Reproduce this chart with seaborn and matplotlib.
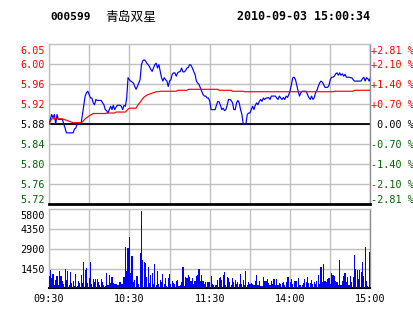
import numpy as np
import pandas as pd
import matplotlib
matplotlib.use("Agg")
import matplotlib.pyplot as plt
import seaborn as sns
from matplotlib.transforms import blended_transform_factory, ScaledTranslation

# ---------------- data ----------------
stock_code = "000599"
stock_name = "青岛双星"
stamp = "2010-09-03 15:00:34"
pre_close = 5.88
price_span = 0.165

left_labels = ["6.05", "6.00", "5.96", "5.92", "5.88", "5.84", "5.80", "5.76", "5.72"]
right_labels = ["+2.81 %", "+2.10 %", "+1.40 %", "+0.70 %", " 0.00 %",
                "-0.70 %", "-1.40 %", "-2.10 %", "-2.81 %"]
vol_labels = ["5800", "4350", "2900", "1450"]
vol_ticks = [5800, 4350, 2900, 1450]
vol_max = 5800
time_labels = ["09:30", "10:30", "11:30", "14:00", "15:00"]
time_label_minutes = [0, 60, 120, 180, 240]

price = [
    5.880, 5.890, 5.900, 5.893, 5.900, 5.880, 5.900, 5.890, 5.890, 5.890,
    5.890, 5.880, 5.872, 5.862, 5.862, 5.862, 5.862, 5.862, 5.862, 5.870,
    5.872, 5.880, 5.880, 5.880, 5.883, 5.900, 5.920, 5.938, 5.945, 5.948,
    5.941, 5.934, 5.934, 5.924, 5.920, 5.931, 5.929, 5.929, 5.929, 5.929,
    5.924, 5.920, 5.910, 5.908, 5.903, 5.910, 5.917, 5.910, 5.919, 5.910,
    5.915, 5.919, 5.919, 5.919, 5.917, 5.910, 5.919, 5.917, 5.934, 5.976,
    5.972, 5.969, 5.967, 5.965, 5.958, 5.952, 5.958, 5.965, 5.972, 6.003,
    6.011, 6.013, 6.011, 6.006, 6.003, 5.999, 5.993, 5.989, 5.996, 6.003,
    6.006, 5.996, 6.003, 5.989, 5.976, 5.969, 5.976, 5.972, 5.969, 5.958,
    5.969, 5.972, 5.983, 5.986, 5.986, 5.979, 5.986, 5.988, 5.989, 5.996,
    5.988, 5.988, 5.991, 5.996, 5.997, 6.003, 6.002, 5.996, 5.989, 5.983,
    5.969, 5.965, 5.962, 5.955, 5.948, 5.941, 5.938, 5.938, 5.934, 5.934,
    5.927, 5.910, 5.910, 5.910, 5.910, 5.919, 5.927, 5.926, 5.919, 5.910,
    5.913, 5.908, 5.910, 5.919, 5.931, 5.931, 5.929, 5.924, 5.910, 5.910,
    5.924, 5.929, 5.924, 5.910, 5.900, 5.880, 5.880, 5.880, 5.900, 5.903,
    5.903, 5.910, 5.917, 5.910, 5.919, 5.924, 5.920, 5.927, 5.931, 5.927,
    5.934, 5.931, 5.934, 5.934, 5.935, 5.931, 5.938, 5.938, 5.938, 5.938,
    5.934, 5.931, 5.938, 5.934, 5.931, 5.935, 5.931, 5.938, 5.935, 5.941,
    5.950, 5.962, 5.976, 5.977, 5.972, 5.960, 5.948, 5.938, 5.945, 5.948,
    5.948, 5.948, 5.948, 5.941, 5.935, 5.931, 5.938, 5.931, 5.935, 5.945,
    5.950, 5.958, 5.965, 5.969, 5.967, 5.962, 5.956, 5.956, 5.956, 5.960,
    5.972, 5.977, 5.977, 5.979, 5.984, 5.986, 5.981, 5.986, 5.981, 5.984,
    5.979, 5.983, 5.977, 5.977, 5.977, 5.976, 5.976, 5.972, 5.969, 5.969,
    5.969, 5.969, 5.969, 5.969, 5.974, 5.977, 5.969, 5.976, 5.974, 5.969,
    5.976,
]

avg_price = [
    5.880, 5.886, 5.891, 5.891, 5.891, 5.891, 5.891, 5.891, 5.891, 5.891,
    5.891, 5.890, 5.889, 5.888, 5.887, 5.886, 5.885, 5.884, 5.883, 5.883,
    5.883, 5.883, 5.883, 5.883, 5.883, 5.885, 5.888, 5.891, 5.893, 5.895,
    5.897, 5.899, 5.900, 5.902, 5.902, 5.902, 5.902, 5.902, 5.902, 5.902,
    5.902, 5.902, 5.902, 5.903, 5.903, 5.903, 5.903, 5.903, 5.903, 5.903,
    5.905, 5.905, 5.905, 5.905, 5.905, 5.905, 5.905, 5.905, 5.908, 5.911,
    5.913, 5.913, 5.913, 5.913, 5.913, 5.913, 5.918, 5.922, 5.925, 5.929,
    5.933, 5.936, 5.938, 5.940, 5.941, 5.942, 5.943, 5.944, 5.945, 5.946,
    5.947, 5.947, 5.947, 5.948, 5.948, 5.948, 5.948, 5.948, 5.948, 5.948,
    5.948, 5.948, 5.948, 5.948, 5.948, 5.948, 5.950, 5.950, 5.950, 5.950,
    5.950, 5.950, 5.950, 5.950, 5.952, 5.952, 5.952, 5.952, 5.952, 5.952,
    5.952, 5.952, 5.952, 5.952, 5.952, 5.952, 5.952, 5.952, 5.952, 5.952,
    5.952, 5.952, 5.952, 5.952, 5.952, 5.952, 5.952, 5.950, 5.950, 5.950,
    5.950, 5.950, 5.950, 5.950, 5.950, 5.950, 5.950, 5.948, 5.948, 5.948,
    5.948, 5.948, 5.948, 5.948, 5.948, 5.948, 5.947, 5.947, 5.947, 5.947,
    5.947, 5.947, 5.947, 5.947, 5.947, 5.947, 5.947, 5.947, 5.947, 5.947,
    5.947, 5.947, 5.947, 5.947, 5.947, 5.947, 5.947, 5.947, 5.947, 5.947,
    5.947, 5.947, 5.947, 5.947, 5.947, 5.947, 5.947, 5.947, 5.947, 5.947,
    5.947, 5.947, 5.947, 5.947, 5.947, 5.947, 5.947, 5.947, 5.947, 5.947,
    5.947, 5.947, 5.947, 5.947, 5.947, 5.947, 5.947, 5.947, 5.947, 5.947,
    5.947, 5.947, 5.947, 5.947, 5.947, 5.947, 5.947, 5.947, 5.947, 5.947,
    5.947, 5.947, 5.947, 5.948, 5.948, 5.948, 5.948, 5.948, 5.948, 5.948,
    5.948, 5.948, 5.948, 5.948, 5.948, 5.948, 5.948, 5.948, 5.950, 5.950,
    5.950, 5.950, 5.950, 5.950, 5.950, 5.950, 5.950, 5.950, 5.950, 5.950,
    5.950,
]

volume = [
    905, 1346, 734, 1052, 245, 612, 905, 245, 1272, 905,
    538, 318, 1419, 612, 1272, 245, 1199, 367, 538, 171,
    1052, 171, 538, 392, 979, 392, 1933, 1346, 1493, 392,
    759, 1933, 318, 685, 465, 685, 685, 465, 245, 685,
    465, 245, 171, 1126, 245, 979, 392, 832, 392, 318,
    318, 245, 245, 465, 318, 318, 832, 3034, 1272, 2961,
    3768, 1126, 2374, 465, 612, 905, 905, 318, 2594, 5677,
    2080, 1933, 1860, 832, 1566, 392, 979, 1126, 318, 1786,
    245, 1272, 318, 612, 465, 1052, 318, 759, 171, 759,
    1052, 318, 538, 392, 318, 538, 612, 171, 245, 465,
    1566, 171, 832, 783, 979, 832, 538, 759, 318, 538,
    905, 979, 1419, 538, 979, 538, 318, 440, 465, 465,
    465,
    905, 318, 245, 245, 245, 612, 783, 832, 612, 979,
    1199, 245, 832, 783, 440, 245, 759, 465, 612, 318,
    440, 318, 1052, 318, 612, 245, 1272, 245, 465, 318,
    392, 318, 245, 538, 979, 245, 538, 171, 171, 832,
    538, 538, 685, 392, 245, 538, 318, 685, 245, 685,
    245, 392, 318, 392, 465, 245, 465, 832, 832, 465,
    685, 318, 538, 538, 538, 759, 245, 245, 245, 392,
    685, 465, 832, 392, 392, 612, 318, 465, 318, 538,
    979, 318, 1566, 465, 1786, 538, 440, 685, 759, 318,
    1126, 979, 905, 538, 440, 245, 2080, 245, 538, 905,
    1126, 465, 832, 245, 905, 465, 832, 2447, 1419, 1346,
    685, 1346, 1199, 1933, 905, 3034, 538, 171, 2692, 2447,
]

# ---------------- style ----------------
sns.set_style("white")
plt.rcParams["font.family"] = ["DejaVu Sans Mono", "Noto Sans CJK SC"]

GRID = "#c0c0c0"
RED = "#ff0000"
GREEN = "#006400"
W, H = 414, 314

fig = plt.figure(figsize=(W / 100, H / 100), dpi=100)
fig.patch.set_facecolor("white")


def rect(x0, y0, x1, y1):
    return [x0 / W, 1 - y1 / H, (x1 - x0) / W, (y1 - y0) / H]


axp = fig.add_axes(rect(49, 44.3, 370.5, 204))
axv = fig.add_axes(rect(49, 209.3, 370.5, 288.3))

n = len(price)
df = pd.DataFrame({"minute": np.arange(n), "price": price,
                   "avg": avg_price, "volume": volume})

# ---------------- price panel ----------------
lo, hi = pre_close - price_span, pre_close + price_span
levels = np.linspace(hi, lo, 9)
axp.set_xlim(0, n - 1)
axp.set_ylim(lo, hi)
for m in range(0, n, 30):
    axp.axvline(m, color=GRID, lw=1.0, zorder=1)
for lv in levels[1:-1]:
    axp.axhline(lv, color=GRID, lw=1.0, zorder=1)
axp.axhline(pre_close, color="black", lw=1.3, zorder=2)

sns.lineplot(data=df, x="minute", y="price", color="#0000ff", lw=0.85,
             ax=axp, zorder=3)
sns.lineplot(data=df, x="minute", y="avg", color=RED, lw=0.85,
             ax=axp, zorder=4)

axp.set_xticks([])
axp.set_yticks([])
axp.set_xlabel("")
axp.set_ylabel("")
for side in ["left", "top", "right"]:
    axp.spines[side].set_color(GRID)
    axp.spines[side].set_linewidth(1.0)
axp.spines["right"].set_color("#909090")
axp.spines["bottom"].set_color("black")
axp.spines["bottom"].set_linewidth(2.0)

tr_l = blended_transform_factory(fig.transFigure, axp.transData)
down = ScaledTranslation(0, -1.2 / 100, fig.dpi_scale_trans)
for i, lv in enumerate(levels):
    pct = (lv - pre_close)
    if abs(pct) < 1e-9:
        col = "black"
    elif pct > 0:
        col = RED
    else:
        col = GREEN
    va = "center"
    if i == 0:
        va = "top"
    elif i == len(levels) - 1:
        va = "bottom"
    fig.text(45 / W, lv, left_labels[i], ha="right", va=va, color=col,
             fontsize=7.3, transform=tr_l + down)
    fig.text(371.5 / W, lv, right_labels[i], ha="left", va=va, color=col,
             fontsize=7.3, transform=tr_l + down)

# ---------------- volume panel ----------------
sns.barplot(data=df, x="minute", y="volume", native_scale=True,
            color="#0000ff", saturation=1, width=0.85, errorbar=None,
            ax=axv, zorder=3)
for p in axv.patches:
    p.set_antialiased(False)
    p.set_linewidth(0)
axv.set_xlim(0, n - 1)
axv.set_ylim(0, vol_max)
for m in range(0, n, 30):
    axv.axvline(m, color=GRID, lw=1.0, zorder=1)
for v in vol_ticks[1:]:
    axv.axhline(v, color=GRID, lw=1.0, zorder=1)
axv.set_xticks([])
axv.set_yticks([])
axv.set_xlabel("")
axv.set_ylabel("")
for side in ["left", "top", "right"]:
    axv.spines[side].set_color(GRID)
    axv.spines[side].set_linewidth(1.0)
axv.spines["right"].set_color("#909090")
axv.spines["bottom"].set_color("black")
axv.spines["bottom"].set_linewidth(1.5)

tr_v = blended_transform_factory(fig.transFigure, axv.transData)
for i, (v, lab) in enumerate(zip(vol_ticks, vol_labels)):
    va = "top" if i == 0 else "center"
    fig.text(45 / W, v, lab, ha="right", va=va, color="black",
             fontsize=7.3, transform=tr_v + down)

tr_t = blended_transform_factory(axv.transData, fig.transFigure)
for m, lab in zip(time_label_minutes, time_labels):
    fig.text(m, 1 - 298.5 / H, lab, ha="center", va="center",
             color="black", fontsize=7.3, transform=tr_t)

# ---------------- header ----------------
fig.text(50 / W, 1 - 17 / H, stock_code, ha="left", va="center",
         fontsize=8, fontweight="bold", color="black")
fig.text(105 / W, 1 - 17 / H, stock_name, ha="left", va="center",
         fontsize=9.2, color="black",
         family=["Noto Sans CJK SC", "DejaVu Sans"])
fig.text(237 / W, 1 - 17 / H, stamp, ha="left", va="center",
         fontsize=8.35, fontweight="bold", color="black")

fig.savefig("out.png", dpi=100, facecolor="white")
